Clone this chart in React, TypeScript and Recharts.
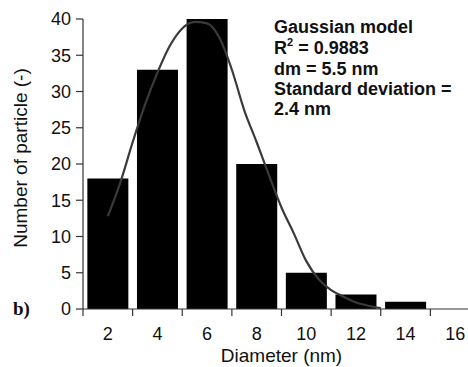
import React from 'react';
import { ComposedChart, Bar, Line, XAxis, YAxis, Label } from 'recharts';

// Histogram data
const diameters = [2, 4, 6, 8, 10, 12, 14, 16];
const counts = [18, 33, 40, 20, 5, 2, 1, 0];

// Gaussian fit curve
const fitX = [2, 2.5, 3, 3.5, 4, 4.5, 5, 5.5, 6, 6.5, 7, 7.5, 8, 8.5, 9, 9.5, 10, 10.5, 11, 11.5, 12, 12.5, 13];
const fitY = [12.8, 17.4, 23.0, 28.2, 32.6, 36.3, 38.7, 39.6, 39.4, 37.4, 33.0, 27.4, 23.0, 18.4, 14.0, 10.4, 6.6, 4.1, 2.6, 1.7, 0.9, 0.45, 0.12];

const yTicks = [0, 5, 10, 15, 20, 25, 30, 35, 40];
const xTicks = [2, 4, 6, 8, 10, 12, 14, 16];
const X_DOMAIN = [1, 17];

const annotation = ['Gaussian model', 'R2', 'dm = 5.5 nm', 'Standard deviation =', '2.4 nm'];

const histData = diameters.map((d, i) => ({ x: d, count: counts[i] }));
const fitData = fitX.map((x, i) => ({ x, fit: fitY[i] }));

const TICK_LEN = 7;
const TICK_GAP = 11;
const BAR_W = 41;
const FONT = '"Liberation Sans", Arial, sans-serif';
const AXIS_COLOR = '#333';

const XTick = (props: any) => {
  const { x, y, payload, width } = props;
  const unit = width / (X_DOMAIN[1] - X_DOMAIN[0]);
  const bx = x - unit; // boundary between categories
  return (
    <g>
      <line x1={bx} x2={bx} y1={y - TICK_GAP - TICK_LEN} y2={y - TICK_GAP} stroke={AXIS_COLOR} strokeWidth={1.2} />
      <text x={x} y={y} dy="0.71em" textAnchor="middle" fontFamily={FONT} fontSize={18} fill="#111">
        {payload.value}
      </text>
    </g>
  );
};

const WideBar = (props: any) => {
  const { x, y, width, height, fill } = props;
  if (!height || height <= 0) return null;
  const cx = x + width / 2;
  return <rect x={cx - BAR_W / 2} y={y} width={BAR_W} height={height} fill={fill} />;
};

export default function App() {
  return (
    <div style={{ position: 'absolute', left: 0, top: 0, width: 468, height: 367, overflow: 'hidden', background: '#fff' }}>
      <ComposedChart
        width={500}
        height={367}
        data={histData}
        margin={{ top: 19, right: 20, bottom: 0, left: 0 }}
      >
        <XAxis
          dataKey="x"
          type="number"
          domain={X_DOMAIN}
          ticks={xTicks}
          interval={0}
          tickLine={false}
          tickSize={TICK_LEN}
          tickMargin={TICK_GAP}
          tick={<XTick />}
          height={58}
          axisLine={{ stroke: AXIS_COLOR, strokeWidth: 1.2 }}
        >
          <Label
            value="Diameter (nm)"
            position="insideBottom"
            offset={5}
            style={{ fontFamily: FONT, fontSize: 19, fill: '#111' }}
          />
        </XAxis>
        <YAxis
          type="number"
          domain={[0, 40]}
          ticks={yTicks}
          interval={0}
          width={83}
          tickSize={7}
          tickMargin={5}
          tick={{ fontFamily: FONT, fontSize: 18, fill: '#111' }}
          tickLine={{ stroke: AXIS_COLOR, strokeWidth: 1.2 }}
          axisLine={{ stroke: AXIS_COLOR, strokeWidth: 1.2 }}
        >
          <Label
            value="Number of particle (-)"
            angle={-90}
            position="center"
            dx={-21}
            dy={-6}
            style={{ fontFamily: FONT, fontSize: 19, fill: '#111', textAnchor: 'middle' }}
          />
        </YAxis>
        <Bar dataKey="count" fill="#000" shape={<WideBar />} isAnimationActive={false} />
        <Line
          data={fitData}
          dataKey="fit"
          type="monotone"
          stroke="#3a3a3a"
          strokeWidth={2.2}
          dot={false}
          activeDot={false}
          isAnimationActive={false}
        />
      </ComposedChart>
      <svg width={468} height={367} style={{ position: 'absolute', left: 0, top: 0, pointerEvents: 'none' }}>
        <g fontFamily={FONT} fontWeight="bold" fontSize={18} fill="#111">
          <text x={274} y={32.5}>{annotation[0]}</text>
          <text x={274} y={54}>
            R
            <tspan fontSize={11} dy={-8}>2</tspan>
            <tspan dy={8}> = 0.9883</tspan>
          </text>
          <text x={274} y={75}>{annotation[2]}</text>
          <text x={274} y={94.5}>{annotation[3]}</text>
          <text x={274} y={115}>{annotation[4]}</text>
        </g>
        <text x={13} y={315} fontFamily='"Liberation Serif", "Times New Roman", serif' fontWeight="bold" fontSize={19} fill="#111">
          b)
        </text>
      </svg>
    </div>
  );
}
